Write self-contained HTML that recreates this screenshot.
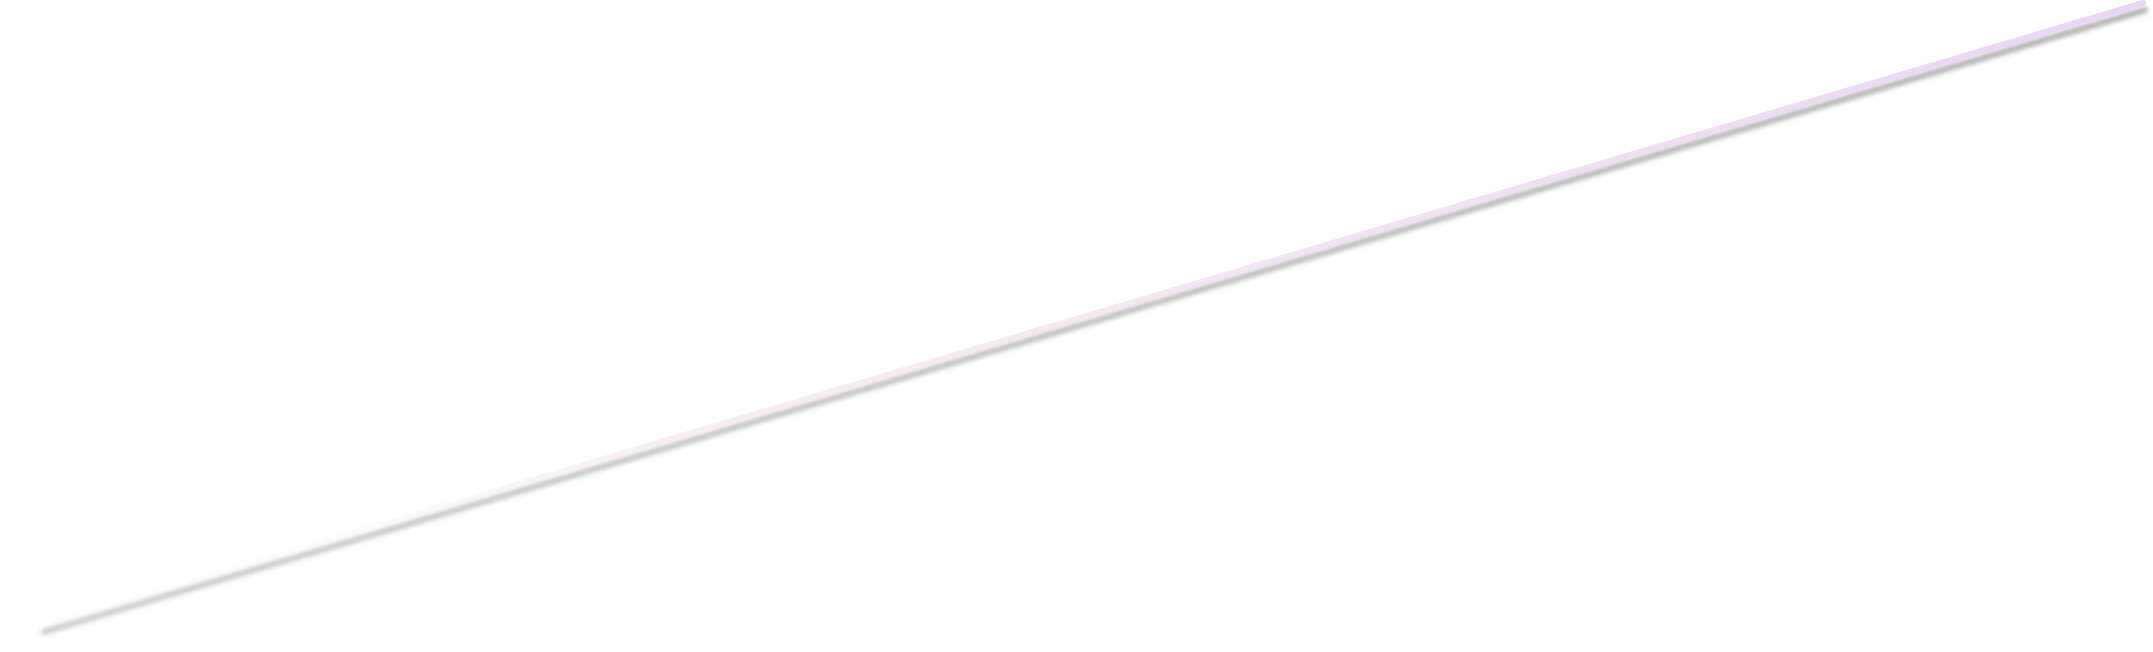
<!DOCTYPE html>
<html>
<head>
<meta charset="utf-8">
<style>
  html,body{margin:0;padding:0;background:#ffffff;}
  svg{display:block;}
</style>
</head>
<body>
<svg width="2153" height="652" viewBox="0 0 2153 652">
  <defs>
    <linearGradient id="lineGrad" x1="40" y1="626" x2="2143" y2="3" gradientUnits="userSpaceOnUse">
      <stop offset="0" stop-color="#ffffff" stop-opacity="0"/>
      <stop offset="0.3" stop-color="#f7eeee" stop-opacity="0.9"/>
      <stop offset="1" stop-color="#ecd4f8"/>
    </linearGradient>
    <linearGradient id="shadowGrad" x1="40" y1="632" x2="2143" y2="10" gradientUnits="userSpaceOnUse">
      <stop offset="0" stop-color="#b4b4b4" stop-opacity="0.7"/>
      <stop offset="1" stop-color="#a8a8a8" stop-opacity="0.95"/>
    </linearGradient>
    <filter id="blur" x="-5%" y="-5%" width="110%" height="110%">
      <feGaussianBlur stdDeviation="2.5"/>
    </filter>
  </defs>
  <line x1="44" y1="632" x2="2145" y2="10" stroke="url(#shadowGrad)" stroke-width="6" filter="url(#blur)" stroke-linecap="round"/>
  <line x1="40" y1="626" x2="2143" y2="3" stroke="url(#lineGrad)" stroke-width="6" stroke-linecap="round"/>
</svg>
</body>
</html>
